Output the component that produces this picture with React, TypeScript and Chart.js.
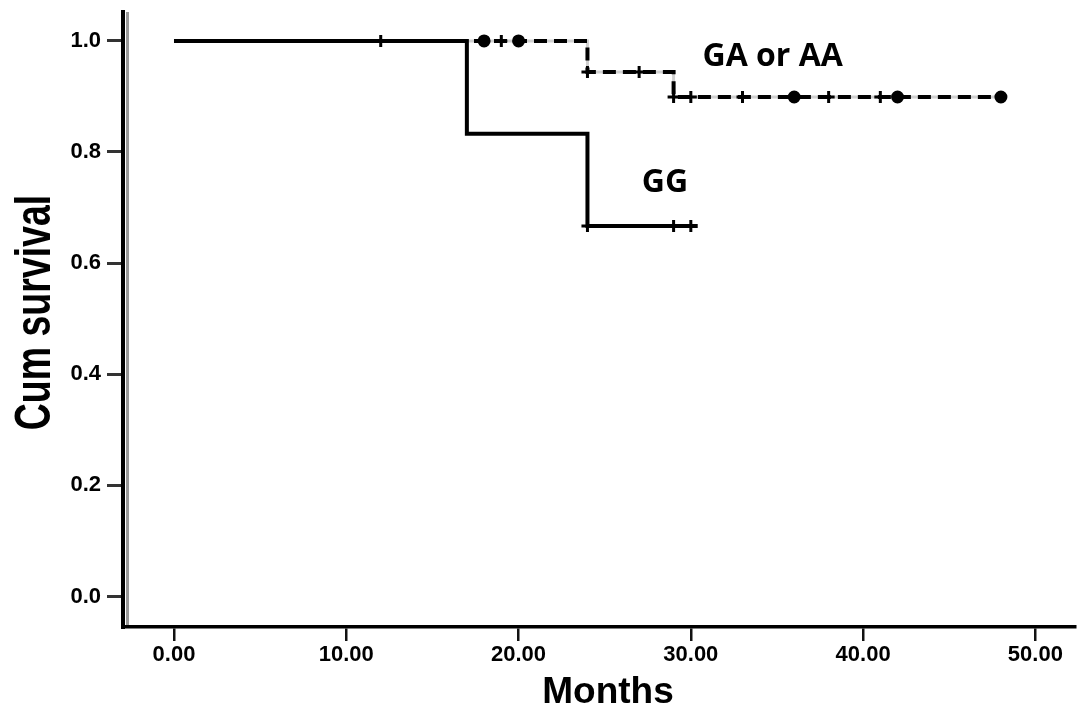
import { useEffect, useRef } from "react";
import { Chart, registerables } from "chart.js";

Chart.register(...registerables);

// ---- data ----
const xTickValues = [0, 10, 20, 30, 40, 50];
const yTickValues = [0, 0.2, 0.4, 0.6, 0.8, 1.0];

// GG group: event times (step starts) and survival after each step
const ggTimes = [0, 17, 24, 30.4];
const ggSurvival = [1, 0.833, 0.667, 0.667];
const ggCensored = [12, 24, 29, 30];

// GA or AA group
const gaTimes = [0, 24, 29, 48.3];
const gaSurvival = [1, 0.944, 0.899, 0.899];
const gaCensored = [18, 18, 19, 20, 20, 24, 27, 29, 30, 33, 36, 36, 38, 41, 42, 42, 48, 48];

const groupNames = ["GA or AA", "GG"];
const groupLabelAnchors = [
  { x: 34.75, y: 0.971 },
  { x: 28.5, y: 0.744 },
];

const xTitle = "Months";
const yTitle = "Cum survival";

// ---- helpers ----
function survivalAt(times: number[], surv: number[], t: number) {
  let v = surv[0];
  for (let i = 0; i < times.length; i++) if (times[i] <= t) v = surv[i];
  return v;
}
function censorPoints(times: number[], surv: number[], cens: number[]) {
  const counts = new Map<number, number>();
  cens.forEach((t) => counts.set(t, (counts.get(t) || 0) + 1));
  return Array.from(counts.entries()).map(([t, n]) => ({ x: t, y: survivalAt(times, surv, t), n }));
}

const tickFont = { family: '"Liberation Sans", Arial, sans-serif', size: 22, weight: "bold" as const };

const decorPlugin = {
  id: "decor",
  beforeDatasetsDraw(chart: any) {
    const { ctx, chartArea } = chart;
    ctx.save();
    ctx.strokeStyle = "#9a9a9a";
    ctx.lineWidth = 3;
    ctx.beginPath();
    ctx.moveTo(chartArea.left + 4.5, chartArea.top);
    ctx.lineTo(chartArea.left + 4.5, chartArea.bottom - 2);
    ctx.stroke();
    ctx.restore();
  },
  afterDraw(chart: any) {
    const { ctx, scales, chartArea } = chart;
    ctx.save();
    ctx.fillStyle = "#000";
    ctx.font = 'bold 32px "Open Sans", sans-serif';
    ctx.textAlign = "center";
    ctx.textBaseline = "middle";
    groupNames.forEach((name, i) => {
      const a = groupLabelAnchors[i];
      ctx.fillText(name, scales.x.getPixelForValue(a.x), scales.y.getPixelForValue(a.y));
    });
    // x axis title
    ctx.font = 'bold 37px "Liberation Sans", Arial, sans-serif';
    ctx.textBaseline = "alphabetic";
    ctx.fillText(xTitle, (chartArea.left + chartArea.right) / 2 + 9, chartArea.bottom + 76);
    // y axis title (condensed bold)
    const cy = (chartArea.top + chartArea.bottom) / 2 - 7;
    ctx.translate(50, cy);
    ctx.rotate(-Math.PI / 2);
    ctx.scale(0.75, 1);
    ctx.font = 'bold 50px "Liberation Sans", Arial, sans-serif';
    ctx.fillText(yTitle, 0, 0);
    ctx.restore();
  },
};

export default function App() {
  const ref = useRef<HTMLCanvasElement>(null);
  useEffect(() => {
    document.body.style.margin = "0";
    const canvas = ref.current!;
    const chart = new Chart(canvas, {
      type: "scatter",
      data: {
        datasets: [
          {
            label: "GA halo",
            data: gaTimes.map((t, i) => ({ x: t, y: gaSurvival[i] })),
            showLine: true,
            stepped: true,
            borderColor: "#d0d0d0",
            borderWidth: 3,
            pointRadius: 0,
            order: 10,
          },
          {
            label: "GA or AA",
            data: gaTimes.map((t, i) => ({ x: t, y: gaSurvival[i] })),
            showLine: true,
            stepped: true,
            borderColor: "#000",
            borderWidth: 4,
            borderDash: [13, 7],
            pointRadius: 0,
            order: 5,
          },
          {
            label: "GG",
            data: ggTimes.map((t, i) => ({ x: t, y: ggSurvival[i] })),
            showLine: true,
            stepped: true,
            borderColor: "#000",
            borderWidth: 4,
            pointRadius: 0,
            order: 4,
          },
          {
            label: "GA censored",
            data: censorPoints(gaTimes, gaSurvival, gaCensored),
            showLine: false,
            pointStyle: (c: any) => (c.raw && c.raw.n > 1 ? "circle" : "cross"),
            pointRadius: (c: any) => (c.raw && c.raw.n > 1 ? 5 : 6),
            borderColor: "#000",
            backgroundColor: "#000",
            borderWidth: 3,
            order: 1,
          },
          {
            label: "GG censored",
            data: censorPoints(ggTimes, ggSurvival, ggCensored),
            showLine: false,
            pointStyle: "cross",
            pointRadius: 6,
            borderColor: "#000",
            backgroundColor: "#000",
            borderWidth: 3,
            order: 1,
          },
        ],
      },
      options: {
        responsive: false,
        animation: false,
        layout: { padding: { top: 12, right: 12, left: 0, bottom: 0 } },
        plugins: { legend: { display: false }, tooltip: { enabled: false } },
        scales: {
          x: {
            type: "linear",
            min: -2.96,
            max: 52.3,
            afterBuildTicks: (s: any) => {
              s.ticks = xTickValues.map((v) => ({ value: v }));
            },
            afterFit: (s: any) => {
              s.height = 91;
              s.paddingLeft = 0;
              s.paddingRight = 0;
            },
            ticks: {
              callback: (v: any) => Number(v).toFixed(2),
              font: tickFont,
              color: "#000",
              padding: 1,
              maxRotation: 0,
              autoSkip: false,
            },
            grid: { drawOnChartArea: false, drawTicks: true, tickLength: 14, color: "#111", lineWidth: 2.5 },
            border: { display: true, color: "#000", width: 3.5 },
          },
          y: {
            type: "linear",
            min: -0.055,
            max: 1.052,
            afterBuildTicks: (s: any) => {
              s.ticks = yTickValues.map((v) => ({ value: v }));
            },
            afterFit: (s: any) => {
              s.width = 123;
              s.paddingTop = 0;
              s.paddingBottom = 0;
            },
            ticks: {
              callback: (v: any) => Number(v).toFixed(1),
              font: tickFont,
              color: "#000",
              padding: 6,
              autoSkip: false,
            },
            grid: { drawOnChartArea: false, drawTicks: true, tickLength: 16, color: "#333", lineWidth: 3 },
            border: { display: true, color: "#000", width: 4 },
          },
        },
      },
      plugins: [decorPlugin],
    } as any);
    return () => chart.destroy();
  }, []);
  return <canvas ref={ref} width={1087} height={718} style={{ display: "block" }} />;
}
